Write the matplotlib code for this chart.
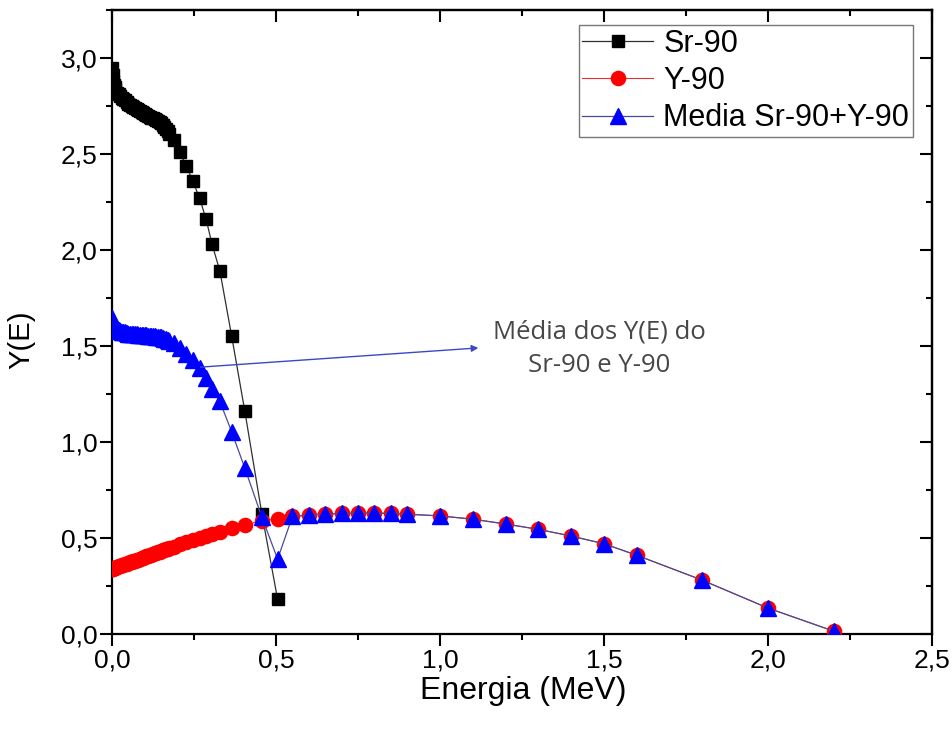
import matplotlib
matplotlib.use("Agg")
import matplotlib.pyplot as plt
from matplotlib.ticker import MultipleLocator, FuncFormatter
from matplotlib import font_manager

# ---------------- data ----------------
sr_x = [0.000, 0.002, 0.004, 0.006, 0.008, 0.010, 0.015, 0.020, 0.025, 0.030,
        0.035, 0.040, 0.045, 0.050, 0.055, 0.060, 0.065, 0.070, 0.075, 0.080,
        0.085, 0.090, 0.095, 0.100, 0.105, 0.110, 0.115, 0.120, 0.125, 0.130,
        0.135, 0.140, 0.145, 0.150, 0.155, 0.160, 0.165, 0.170, 0.175, 0.188,
        0.207, 0.226, 0.246, 0.267, 0.287, 0.305, 0.329, 0.365, 0.405, 0.457,
        0.505]
sr_y = [2.950, 2.910, 2.880, 2.860, 2.850, 2.840, 2.820, 2.810, 2.800, 2.790,
        2.785, 2.780, 2.770, 2.760, 2.755, 2.750, 2.745, 2.740, 2.735, 2.730,
        2.725, 2.720, 2.715, 2.710, 2.705, 2.700, 2.695, 2.690, 2.685, 2.680,
        2.675, 2.670, 2.665, 2.660, 2.650, 2.640, 2.630, 2.620, 2.605, 2.575,
        2.510, 2.440, 2.360, 2.270, 2.160, 2.030, 1.890, 1.550, 1.160, 0.625,
        0.180]

y_x = sr_x + [0.55, 0.60, 0.65, 0.70, 0.75, 0.80, 0.85, 0.90, 1.0, 1.1,
              1.2, 1.3, 1.4, 1.5, 1.6, 1.8, 2.0, 2.2]
y_y = [0.340, 0.341, 0.342, 0.344, 0.345, 0.346, 0.349, 0.352, 0.355, 0.358,
       0.361, 0.364, 0.367, 0.370, 0.373, 0.376, 0.379, 0.382, 0.385, 0.388,
       0.391, 0.394, 0.397, 0.400, 0.404, 0.407, 0.410, 0.413, 0.417, 0.420,
       0.423, 0.426, 0.429, 0.432, 0.435, 0.438, 0.441, 0.444, 0.447, 0.455,
       0.467, 0.478, 0.489, 0.500, 0.510, 0.519, 0.531, 0.553, 0.568, 0.590,
       0.600, 0.612, 0.620, 0.625, 0.628, 0.630, 0.630, 0.628, 0.624, 0.615,
       0.598, 0.573, 0.545, 0.510, 0.470, 0.410, 0.280, 0.135, 0.015]

m_x = y_x
m_y = [1.645, 1.626, 1.611, 1.602, 1.598, 1.593, 1.585, 1.581, 1.578, 1.574,
       1.573, 1.572, 1.569, 1.565, 1.564, 1.563, 1.562, 1.561, 1.560, 1.559,
       1.558, 1.557, 1.556, 1.555, 1.555, 1.554, 1.553, 1.552, 1.551, 1.550,
       1.549, 1.548, 1.547, 1.546, 1.543, 1.539, 1.536, 1.532, 1.526, 1.515,
       1.489, 1.459, 1.425, 1.385, 1.335, 1.275, 1.211, 1.052, 0.864, 0.608,
       0.390, 0.612, 0.620, 0.625, 0.628, 0.630, 0.630, 0.628, 0.624, 0.615,
       0.598, 0.573, 0.545, 0.510, 0.470, 0.410, 0.280, 0.135, 0.015]

labels = ["Sr-90", "Y-90", "Media Sr-90+Y-90"]
annot_text = "Média dos Y(E) do\nSr-90 e Y-90"
xlabel = "Energia (MeV)"
ylabel = "Y(E)"

# ---------------- fonts ----------------
avail = {f.name for f in font_manager.fontManager.ttflist}
narrow = "Liberation Sans Narrow" if "Liberation Sans Narrow" in avail else "Liberation Sans"
regular = "Liberation Sans"
annot_font = "Open Sans" if "Open Sans" in avail else "DejaVu Sans"

# ---------------- figure ----------------
fig = plt.figure(figsize=(9.52, 7.31), dpi=100)
W, H = 952, 731
L, R, T, B = 112, 932, 10, 634
ax = fig.add_axes([L / W, 1 - B / H, (R - L) / W, (B - T) / H])

ax.plot(sr_x, sr_y, color="#303030", lw=0.9, marker="s", ms=9,
        mfc="black", mec="black", label=labels[0], zorder=3)
ax.plot(y_x, y_y, color="#e03030", lw=0.8, marker="o", ms=10.2,
        mfc="#ff0000", mec="#ff0000", label=labels[1], zorder=4)
ax.plot(m_x, m_y, color="#4a4a9a", lw=0.9, marker="^", ms=11,
        mfc="#0000ff", mec="#0000ff", label=labels[2], zorder=5)

ax.set_xlim(0, 2.5)
ax.set_ylim(0, 3.25)

comma = FuncFormatter(lambda v, p: f"{v:.1f}".replace(".", ","))
for axis in (ax.xaxis, ax.yaxis):
    axis.set_major_locator(MultipleLocator(0.5))
    axis.set_minor_locator(MultipleLocator(0.25))
    axis.set_major_formatter(comma)

ax.tick_params(which="major", direction="out", length=8.5, width=1.5,
               labelsize=19, pad=2)
ax.tick_params(which="minor", direction="out", length=4.5, width=1.5)
for lab in ax.get_xticklabels() + ax.get_yticklabels():
    lab.set_fontfamily(narrow)
for s in ax.spines.values():
    s.set_linewidth(1.6)

# inward ticks on top and right
secx = ax.secondary_xaxis("top")
secx.xaxis.set_major_locator(MultipleLocator(0.5))
secx.xaxis.set_minor_locator(MultipleLocator(0.25))
secy = ax.secondary_yaxis("right")
secy.yaxis.set_major_locator(MultipleLocator(0.5))
secy.yaxis.set_minor_locator(MultipleLocator(0.25))
for sec in (secx, secy):
    sec.tick_params(which="major", direction="in", length=8.5, width=1.5,
                    labeltop=False, labelright=False)
    sec.tick_params(which="minor", direction="in", length=4.5, width=1.5)
    for s in sec.spines.values():
        s.set_linewidth(1.6)

# annotation
ax.annotate("", xy=(1.117, 1.49), xytext=(0.27, 1.39),
            arrowprops=dict(arrowstyle="-|>", color="#3a48c8", lw=1.0,
                            mutation_scale=10, shrinkA=0, shrinkB=0),
            zorder=6)
ax.text(1.485, 1.487, annot_text, ha="center", va="center", fontsize=18.5,
        color="#474747", family=annot_font, linespacing=1.45, zorder=6)

leg = ax.legend(loc="upper right", bbox_to_anchor=(913 / W, 1 - 25 / H),
                bbox_transform=fig.transFigure, borderaxespad=0,
                prop={"family": regular, "size": 22}, frameon=True,
                fancybox=False, edgecolor="#555555", handlelength=2.3,
                handletextpad=0.35, labelspacing=0.24, borderpad=0.12)
leg.get_frame().set_linewidth(1.0)

fig.text(523 / W, 1 - 691 / H, xlabel, ha="center", va="center",
         fontsize=23, family=narrow)
fig.text(21 / W, 1 - 340 / H, ylabel, ha="center", va="center",
         fontsize=21, family=narrow, rotation=90)

fig.savefig("out.png", dpi=100)
